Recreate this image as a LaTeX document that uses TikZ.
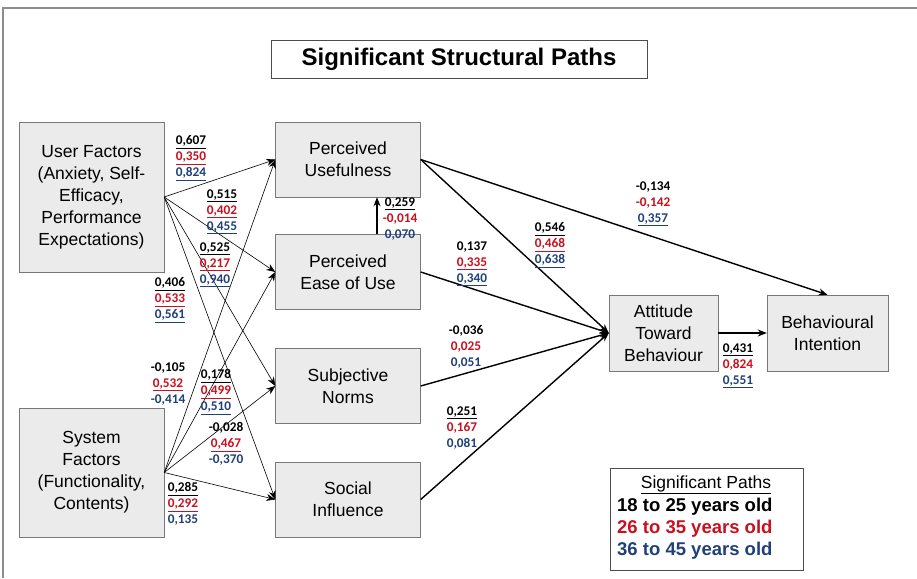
\documentclass[tikz,border=0pt]{standalone}
\usepackage{fontspec}
\setmainfont{Liberation Sans}
\newfontfamily\numfont{Carlito}
\usetikzlibrary{positioning,arrows.meta}
\definecolor{agered}{RGB}{200,16,30}
\definecolor{ageblue}{RGB}{31,64,120}
\definecolor{boxfill}{RGB}{235,235,235}
\definecolor{boxline}{RGB}{120,120,120}
\newcommand{\ulv}[1]{\underline{#1}}
\newcommand{\coef}[3]{#1\\\textcolor{agered}{#2}\\\textcolor{ageblue}{#3}}

\begin{document}
\begin{tikzpicture}[x=1pt, y=-1pt, >={Stealth[length=9pt,width=7pt]},
    construct/.style={draw=boxline, fill=boxfill, align=center,
      minimum width=145pt, minimum height=75pt,
      font=\fontsize{17.5}{22}\selectfont},
    coefs/.style={align=center, inner sep=0pt,
      font=\numfont\bfseries\fontsize{13.3}{16}\selectfont},
    thinpath/.style={->, line width=0.6pt},
    thickpath/.style={->, line width=1.4pt}]
  \useasboundingbox (0,0) rectangle (917,578);
  \draw[line width=1.5pt, black!45] (3,578) -- (3,8) -- (917,8);

  \node[draw=black!70, minimum width=376pt, minimum height=38pt,
    font=\bfseries\fontsize{24}{28}\selectfont] (title) at (459,59)
    {Significant Structural Paths};

  % constructs
  \node[construct, minimum height=150pt] (UF) at (91.5,197)
    {User Factors\\(Anxiety, Self-\\Efficacy,\\Performance\\Expectations)};
  \node[construct, minimum height=129pt] (SF) at (91.5,472.5)
    {System\\Factors\\(Functionality,\\Contents)};
  \node[construct] (PU) at (348,159.5) {Perceived\\Usefulness};
  \node[construct] (PEOU) at (348,272) {Perceived\\Ease of Use};
  \node[construct] (SN) at (348,386) {Subjective\\Norms};
  \node[construct] (SI) at (348,499.5) {Social\\Influence};
  \node[construct, minimum width=109pt, minimum height=76pt] (ATB) at (663.5,333)
    {Attitude\\Toward\\Behaviour};
  \node[construct, minimum width=121pt, minimum height=76pt] (BI) at (827.5,333)
    {Behavioural\\Intention};

  % paths
  \foreach \dst in {PU,PEOU,SN,SI} {
    \draw[thinpath] (UF.east) -- (\dst.west);
    \draw[thinpath] (SF.east) -- (\dst.west);
  }
  \draw[thickpath, line width=1.1pt] ([xshift=29pt]PEOU.north) -- ([xshift=29pt]PU.south);
  \foreach \src in {PU,PEOU,SN,SI}
    \draw[thickpath] (\src.east) -- (ATB.west);
  \draw[thickpath] (PU.east) -- (BI.north);
  \draw[thickpath] (ATB.east) -- (BI.west);

  % coefficients
  \node[coefs] (cUFPU) at (191,158) {\coef{\ulv{0,607}}{\ulv{0,350}}{\ulv{0,824}}};
  \node[coefs] (cUFPEOU) at (222,212) {\coef{\ulv{0,515}}{\ulv{0,402}}{\ulv{0,455}}};
  \node[coefs] (cUFSN) at (215,265) {\coef{\ulv{0,525}}{\ulv{0,217}}{\ulv{0,940}}};
  \node[coefs] (cUFSI) at (170,300) {\coef{\ulv{0,406}}{\ulv{0,533}}{\ulv{0,561}}};
  \node[coefs] (cSFPU) at (168,384) {\coef{-0,105}{\ulv{0,532}}{-0,414}};
  \node[coefs] (cSFPEOU) at (216,392) {\coef{\ulv{0,178}}{\ulv{0,499}}{\ulv{0,510}}};
  \node[coefs] (cSFSN) at (226,444) {\coef{-0,028}{\ulv{0,467}}{-0,370}};
  \node[coefs] (cSFSI) at (183,504) {\coef{\ulv{0,285}}{\ulv{0,292}}{0,135}};
  \node[coefs] (cPEOUPU) at (400,219) {\coef{\ulv{0,259}}{-0,014}{0,070}};
  \node[coefs] (cPEOUATB) at (472,264) {\coef{0,137}{\ulv{0,335}}{\ulv{0,340}}};
  \node[coefs] (cPUATB) at (550,245) {\coef{\ulv{0,546}}{\ulv{0,468}}{\ulv{0,638}}};
  \node[coefs] (cPUBI) at (653,204) {\coef{-0,134}{-0,142}{\ulv{0,357}}};
  \node[coefs] (cSNATB) at (466,347) {\coef{-0,036}{0,025}{0,051}};
  \node[coefs] (cSIATB) at (462,428) {\coef{\ulv{0,251}}{0,167}{0,081}};
  \node[coefs] (cATBBI) at (738,366) {\coef{\ulv{0,431}}{0,824}{\ulv{0,551}}};

  % legend
  \node[draw=black!70, minimum width=193pt, minimum height=102pt] (legend) at (706.5,519) {};
  \node[font=\fontsize{17.5}{22}\selectfont] (leghead) at (706,485) {\ulv{Significant Paths}};
  \node[anchor=west, inner sep=0pt, font=\bfseries\fontsize{18.5}{22}\selectfont] (leg1) at (617,507) {18 to 25 years old};
  \node[anchor=west, inner sep=0pt, font=\bfseries\fontsize{18.5}{22}\selectfont, agered] (leg2) at (617,529) {26 to 35 years old};
  \node[anchor=west, inner sep=0pt, font=\bfseries\fontsize{18.5}{22}\selectfont, ageblue] (leg3) at (617,551) {36 to 45 years old};
\end{tikzpicture}
\end{document}
